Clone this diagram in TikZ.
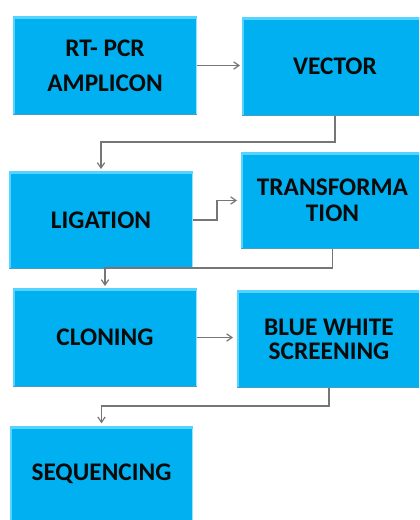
\documentclass[tikz,border=0pt]{standalone}
\usepackage{fontspec}
\setmainfont{Carlito}
\usetikzlibrary{arrows.meta}
\definecolor{boxfill}{HTML}{00B0F0}
\definecolor{boxlight}{HTML}{55D4FF}
\definecolor{boxedge}{HTML}{8FE4FF}
\definecolor{boxshade}{HTML}{4C9CBC}
\definecolor{linkgray}{HTML}{767676}
\definecolor{inkblack}{HTML}{0A0A0A}
\tikzset{
  stepbox/.style={rectangle, fill=boxfill, inner sep=0pt, outer sep=0pt,
    align=center, text=inkblack,
    font=\fontsize{19pt}{19.5pt}\selectfont\bfseries},
  link/.style={draw=linkgray, line width=1pt,
    -{Straight Barb[length=4pt,width=5.5pt,line width=0.9pt]}},
}
% light bevel along the top and left edges, thin shade at the bottom
\newcommand{\bevel}[1]{%
  \fill[boxlight] (#1.north west) rectangle ([yshift=-2.2pt]#1.north east);
  \fill[boxlight] (#1.north west) rectangle ([xshift=1.6pt]#1.south west);
  \draw[boxedge, line width=0.8pt] ([xshift=-0.4pt,yshift=-2pt]#1.north east) -- ([xshift=-0.4pt]#1.south east);
  \draw[boxshade, line width=0.6pt] ([yshift=0.3pt]#1.south west) -- ([yshift=0.3pt]#1.south east);
}
\begin{document}
\begin{tikzpicture}[x=0.75pt,y=-0.75pt]
\useasboundingbox (0,0) rectangle (419,520);
\clip (0,0) rectangle (419,520);

% process steps
\node[stepbox, minimum width=138pt, minimum height=74.25pt] (amp) at (105,65.5)
  {RT- PCR\\[6.5pt]AMPLICON};
\node[stepbox, minimum width=139.5pt, minimum height=74.25pt] (vec) at (335,66.5)
  {VECTOR};
\node[stepbox, minimum width=138pt, minimum height=73.5pt] (lig) at (101,220)
  {LIGATION};
\node[stepbox, minimum width=137.25pt, minimum height=72.75pt] (tra) at (332.5,200.5)
  {TRANSFORMA\\TION};
\node[stepbox, minimum width=138pt, minimum height=74.25pt] (clo) at (105,337.5)
  {CLONING};
\node[stepbox, minimum width=138pt, minimum height=73.5pt] (bws) at (329,339)
  {BLUE WHITE\\[-1.5pt]SCREENING};
\node[stepbox, minimum width=137.25pt, minimum height=72pt] (seq) at (101.5,474)
  {SEQUENCING};

\bevel{amp}\bevel{vec}\bevel{lig}\bevel{tra}\bevel{clo}\bevel{bws}\bevel{seq}

% connectors
\draw[link] (amp.east) -- ([xshift=-1.5pt]amp.east -| vec.west);
\draw[link] (vec.south) -- ++(0,26) -| ([yshift=1.5pt]lig.north);
\draw[link] (lig.east) -- ++(24,0) |- ([xshift=-3pt]tra.west);
\draw[link] (tra.south) -- ++(0,19) -| ([yshift=1.5pt]clo.north);
\draw[link] (clo.east) -- ([xshift=-3pt]clo.east -| bws.west);
\draw[link] (bws.south) -- ++(0,18) -| ([yshift=2pt]seq.north);
\end{tikzpicture}
\end{document}
